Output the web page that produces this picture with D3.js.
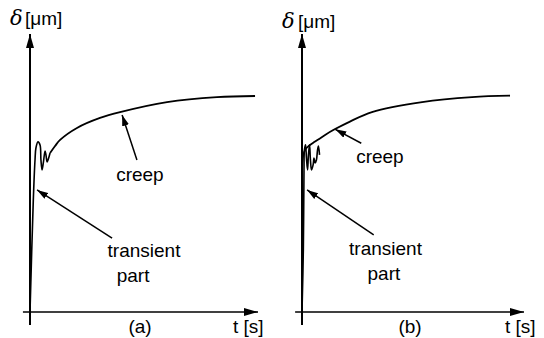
<!DOCTYPE html>
<html>
<head>
<meta charset="utf-8">
<script src="https://cdn.jsdelivr.net/npm/d3@7"></script>
<style>
  body { margin: 0; background: #fff; }
  text { font-family: "Liberation Sans", Arial, sans-serif; fill: #000; }
</style>
</head>
<body>
<div id="container"></div>
<script>
/* CONSTANTS AND GLOBALS */
const width = 544,
  height = 338

// t (0..100) and delta (0..100) in arbitrary units
const transientA = [[0, 0], [1.45, 40.3], [2.2, 54.7], [2.6, 59], [3.5, 61.2], [4.4, 60.1],
  [4.8, 54.7], [5.3, 51.1], [5.9, 54], [6.6, 57.9], [7.0, 56.5], [7.5, 54], [7.9, 54.7], [8.8, 57.2]]
const creepA = [[8.8, 57.2], [11, 59.7], [13.2, 61.9], [20.6, 66.2], [30.7, 69.8], [39.5, 71.9],
  [60.1, 75.5], [82, 77.3], [98.7, 77.7]]

const transientB = [[0, 0], [0.6, 22.3], [0.9, 51.1], [1.1, 58.3], [1.6, 60.1], [2.0, 55.4],
  [2.5, 51.1], [2.9, 56.5], [3.4, 60.1], [3.8, 54.7], [4.3, 51.1], [5.0, 52.9], [5.4, 55.4],
  [5.9, 53.6], [6.5, 54.7], [7.0, 58.3], [7.4, 59.7], [7.9, 56.5]]
const creepB = [[0, 51.8], [0.45, 55.8], [1.35, 58.3], [3.0, 59.7], [5.9, 61.3], [10.4, 63.7],
  [14.9, 65.8], [21.6, 68.5], [31.5, 71.9], [54.1, 75.5], [76.6, 77.3], [93.7, 77.8]]

const panelNames = ["(a)", "(b)"]
const xLabel = "t [s]"
const yUnit = "[μm]"

// annotation arrows: [tailT, tailD, tipT, tipD]
const creepArrows = [[46.9, 54.7, 40.4, 70.9], [26.7, 60.7, 15.0, 65.7]]
const transientArrows = [[36, 26.6, 3.1, 43.9], [32.3, 27.7, 2.3, 43.9]]
// label anchors: [t, d]
const creepText = [[48.2, 49.3], [35.1, 55.8]]
const transientText = [[50, 22.3], [37.6, 23]]
const partText = [[45.2, 13.3], [36.9, 14]]

const panels = [
  { x0: 30, x1: 258, trans: transientA, creep: creepA, nameX: 140, tX: 233, symX: 10, unitX: 25, labY: 25 },
  { x0: 302, x1: 524, trans: transientB, creep: creepB, nameX: 410, tX: 505, symX: 282, unitX: 298, labY: 28 }
]

/* CREATE SVG ELEMENT */
const svg = d3.select("#container")
  .append("svg")
  .attr("width", width)
  .attr("height", height)

const defs = svg.append("defs")
defs.append("marker")
  .attr("id", "axisHead")
  .attr("markerUnits", "userSpaceOnUse")
  .attr("viewBox", "0 0 14 8")
  .attr("refX", 14).attr("refY", 4)
  .attr("markerWidth", 14).attr("markerHeight", 8)
  .attr("orient", "auto")
  .append("path").attr("d", "M0,0 L14,4 L0,8 Z").attr("fill", "#000")
defs.append("marker")
  .attr("id", "noteHead")
  .attr("markerUnits", "userSpaceOnUse")
  .attr("viewBox", "0 0 11 7")
  .attr("refX", 11).attr("refY", 3.5)
  .attr("markerWidth", 11).attr("markerHeight", 7)
  .attr("orient", "auto")
  .append("path").attr("d", "M0,0 L11,3.5 L0,7 Z").attr("fill", "#000")

panels.forEach((p, i) => {
  // + SCALES
  const xScale = d3.scaleLinear().domain([0, 100]).range([p.x0, p.x1])
  const yScale = d3.scaleLinear().domain([0, 100]).range([312, 34])

  const g = svg.append("g")

  // axes with arrow heads
  g.append("line")
    .attr("x1", xScale(0)).attr("y1", yScale(-4.7))
    .attr("x2", xScale(0)).attr("y2", yScale(100))
    .attr("stroke", "#000").attr("stroke-width", 2)
    .attr("marker-end", "url(#axisHead)")
  g.append("line")
    .attr("x1", xScale(-3.1)).attr("y1", yScale(0))
    .attr("x2", xScale(100)).attr("y2", yScale(0))
    .attr("stroke", "#000").attr("stroke-width", 1.6)
    .attr("marker-end", "url(#axisHead)")

  // LINE GENERATOR FUNCTION
  const lineGen = d3.line()
    .x(d => xScale(d[0]))
    .y(d => yScale(d[1]))
    .curve(d3.curveCatmullRom.alpha(0.5))

  g.append("path")
    .attr("d", lineGen(p.trans))
    .attr("fill", "none").attr("stroke", "#000").attr("stroke-width", 1.6)
  g.append("path")
    .attr("d", lineGen(p.creep))
    .attr("fill", "none").attr("stroke", "#000").attr("stroke-width", 1.8)

  // annotation arrows
  ;[creepArrows[i], transientArrows[i]].forEach(a => {
    g.append("line")
      .attr("x1", xScale(a[0])).attr("y1", yScale(a[1]))
      .attr("x2", xScale(a[2])).attr("y2", yScale(a[3]))
      .attr("stroke", "#000").attr("stroke-width", 1.5)
      .attr("marker-end", "url(#noteHead)")
  })

  const notes = [["creep", creepText[i]], ["transient", transientText[i]], ["part", partText[i]]]
  notes.forEach(n => {
    g.append("text")
      .attr("x", xScale(n[1][0])).attr("y", yScale(n[1][1]))
      .attr("text-anchor", "middle")
      .attr("dominant-baseline", "central")
      .attr("font-size", 19)
      .text(n[0])
  })

  // axis labels
  g.append("text")
    .attr("x", p.symX).attr("y", p.labY)
    .attr("font-size", 21)
    .attr("font-style", "italic")
    .style("font-family", "'DejaVu Serif', serif")
    .style("font-weight", 300)
    .text("δ")
  g.append("text")
    .attr("x", p.unitX).attr("y", p.labY)
    .attr("font-size", 19)
    .text(yUnit)
  g.append("text")
    .attr("x", p.nameX).attr("y", 333)
    .attr("text-anchor", "middle")
    .attr("font-size", 19)
    .text(panelNames[i])
  g.append("text")
    .attr("x", p.tX).attr("y", 333)
    .attr("font-size", 19)
    .text(xLabel)
})
</script>
</body>
</html>
